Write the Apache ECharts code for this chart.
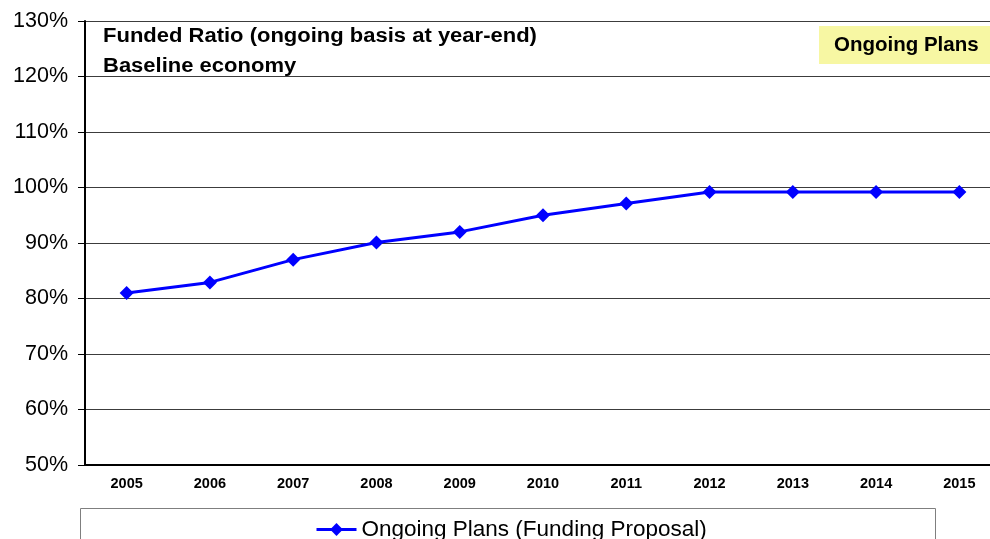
<!DOCTYPE html>
<html>
<head>
<meta charset="utf-8">
<script src="https://cdn.jsdelivr.net/npm/echarts@6/dist/echarts.min.js"></script>
<style>
  html, body { margin: 0; padding: 0; overflow: hidden; background: #fff; }
  #main { width: 1001px; height: 539px; }
</style>
</head>
<body>
<div id="main"></div>
<script>
// 数据
const years = ['2005', '2006', '2007', '2008', '2009', '2010', '2011', '2012', '2013', '2014', '2015'];
const fundedRatio = [81, 82.9, 87, 90.1, 92, 95, 97.1, 99.2, 99.2, 99.2, 99.2];
const seriesName = 'Ongoing Plans (Funding Proposal)';
const titleLines = ['Funded Ratio (ongoing basis at year-end)', 'Baseline economy'];

const FONT = '"Liberation Sans", Arial, sans-serif';

const chart = echarts.init(document.getElementById('main'));

const option = {
    backgroundColor: '#fff',
    animation: false,
    textStyle: { fontFamily: FONT },
    title: {
        text: 'Ongoing Plans',
        left: 819, top: 26,
        backgroundColor: '#f7f7a3',
        padding: [9, 30, 8, 15],
        textStyle: { fontFamily: FONT, fontSize: 20.5, fontWeight: 'bold', color: '#000' }
    },
    grid: { left: 85, right: 0, top: 21, bottom: 74 },
    legend: {
        data: [seriesName],
        left: 310, top: 513,
        itemWidth: 40, itemHeight: 16, itemGap: 6,
        lineStyle: { width: 3 },
        textStyle: { fontFamily: FONT, fontSize: 22.5, color: '#000' }
    },
    xAxis: {
        type: 'category',
        data: years,
        boundaryGap: true,
        axisLine: { lineStyle: { color: '#000', width: 2 } },
        axisTick: { show: false },
        axisLabel: { fontFamily: FONT, fontSize: 14.5, fontWeight: 'bold', color: '#000', margin: 11 }
    },
    yAxis: {
        type: 'value',
        min: 50, max: 130, interval: 10,
        axisLine: { show: true, lineStyle: { color: '#000', width: 2 } },
        axisTick: { show: true, length: 7, lineStyle: { color: '#000', width: 1 } },
        axisLabel: { formatter: '{value}%', fontFamily: FONT, fontSize: 21.5, color: '#000', margin: 17 },
        splitLine: { lineStyle: { color: '#3c3c3c', width: 1 } }
    },
    series: [
        {
            name: seriesName,
            type: 'line',
            data: fundedRatio,
            symbol: 'diamond',
            symbolSize: 14,
            lineStyle: { color: '#0000ff', width: 3 },
            itemStyle: { color: '#0000ff' }
        }
    ],
    graphic: [
        // 标题（横向略微拉伸，贴合原图）
        {
            type: 'text', x: 103, y: 36.5, scaleX: 1.1,
            style: { text: titleLines[0], font: 'bold 20px ' + FONT, fill: '#000', verticalAlign: 'middle' }
        },
        {
            type: 'text', x: 103, y: 66, scaleX: 1.1,
            style: { text: titleLines[1], font: 'bold 20px ' + FONT, fill: '#000', verticalAlign: 'middle' }
        },
        // 图例外框
        {
            type: 'rect',
            shape: { x: 80.5, y: 508.5, width: 855, height: 40 },
            style: { fill: 'none', stroke: '#7f7f7f', lineWidth: 1 },
            z: -1
        }
    ]
};

chart.setOption(option);
</script>
</body>
</html>
